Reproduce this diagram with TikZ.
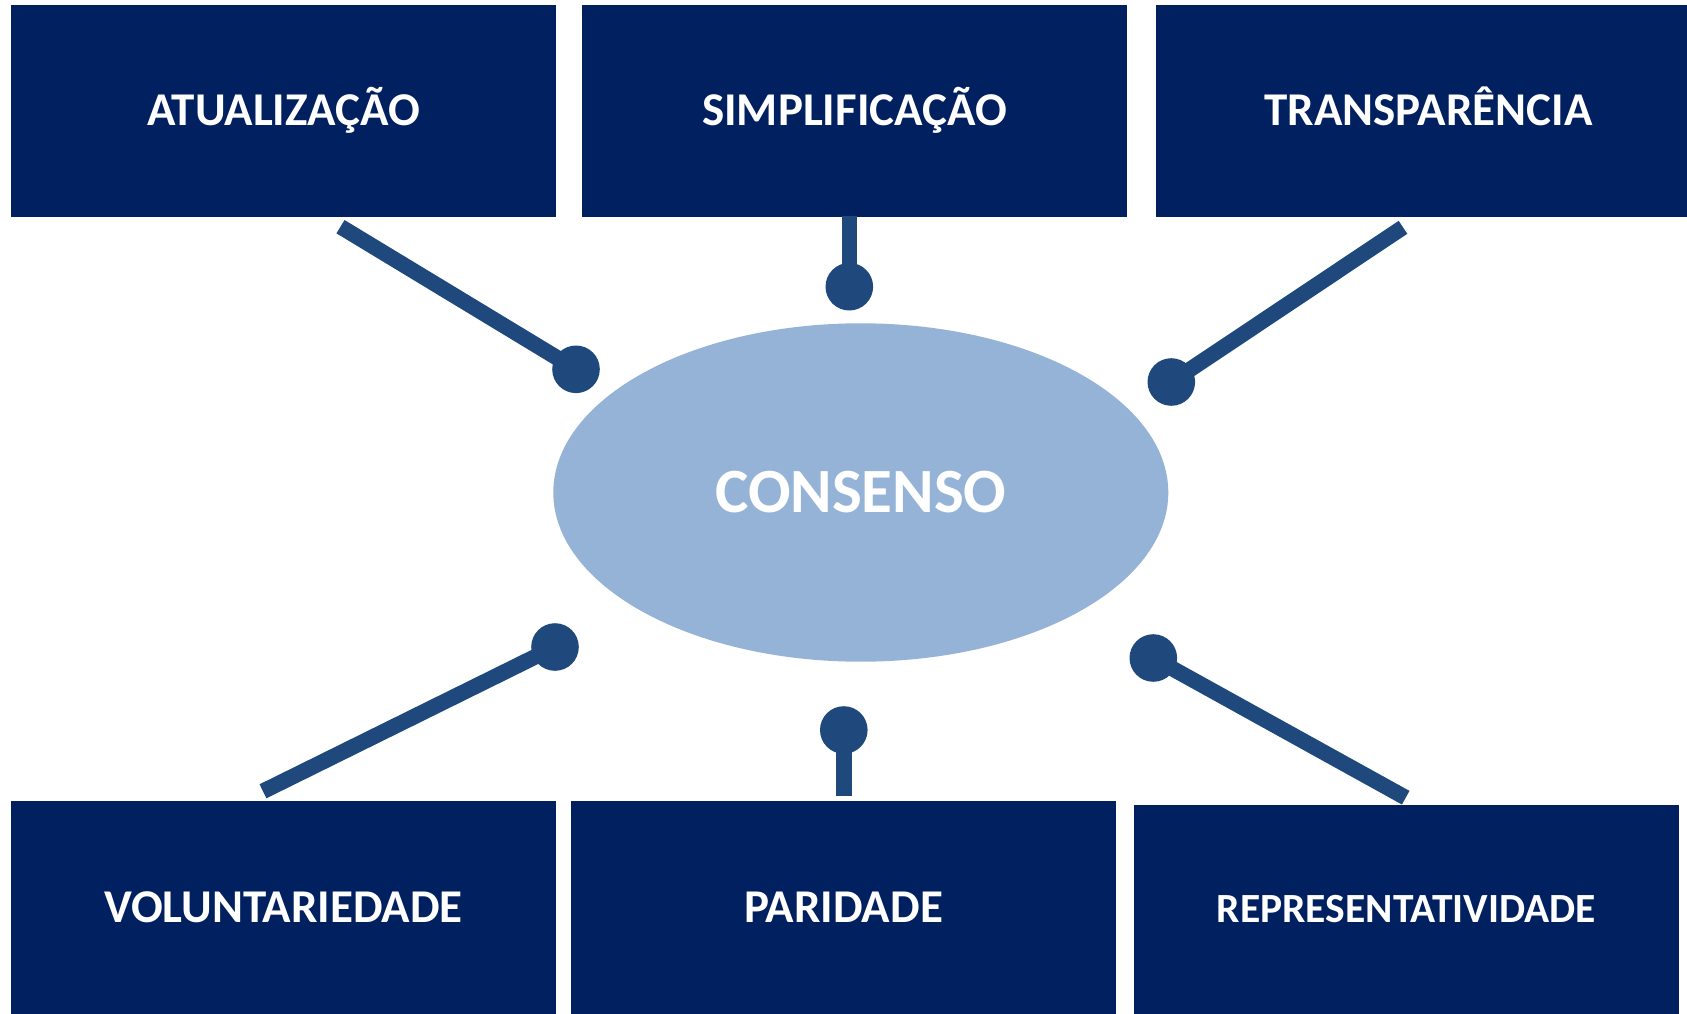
\documentclass[tikz,border=0pt]{standalone}
\usepackage{fontspec}
\setmainfont{Carlito}
\usetikzlibrary{shapes.geometric}
\definecolor{navy}{HTML}{002060}
\definecolor{lightblue}{HTML}{95B3D7}
\definecolor{pinblue}{HTML}{1F497D}
\begin{document}
\begin{tikzpicture}[x=1pt,y=-1pt,
  box/.style={rectangle, fill=navy, text=white, inner sep=0pt, minimum width=545pt,
    font=\fontsize{47}{56}\selectfont\bfseries, text height=29.7pt, text depth=0pt},
  smallbox/.style={box, font=\fontsize{41.5}{50}\selectfont\bfseries, text height=26.2pt},
  hub/.style={ellipse, fill=lightblue, text=white, inner sep=0pt,
    minimum width=615pt, minimum height=338.4pt,
    font=\fontsize{63}{75}\selectfont\bfseries, text height=39.8pt, text depth=0pt},
  pinline/.style={draw=pinblue, line width=15.6pt, line cap=butt},
  pindot/.style={circle, fill=pinblue, minimum size=47.6pt, inner sep=0pt}]
\useasboundingbox (0,0) rectangle (1687,1014);
\clip (0,0) rectangle (1687,1014);

% boxes
\node[box, minimum height=211.2pt] (b1) at (283.5,111.1) {ATUALIZAÇÃO};
\node[box, minimum height=211.2pt] (b2) at (854.5,111.1) {SIMPLIFICAÇÃO};
\node[box, minimum height=211.2pt] (b3) at (1428.5,111.1) {TRANSPARÊNCIA};
\node[box, minimum height=213pt] (b4) at (283.5,907.5) {VOLUNTARIEDADE};
\node[box, minimum height=213pt] (b5) at (843.5,907.5) {PARIDADE};
\node[smallbox, minimum height=209pt] (b6) at (1406.5,909.5) {REPRESENTATIVIDADE};

% central ellipse
\node[hub] (hub) at (860.8,492.5) {CONSENSO};

% free ends of the pins
\coordinate (s1) at (340.5,226.7);
\coordinate (s2) at (849.3,216.0);
\coordinate (s3) at (1403,227.3);
\coordinate (s4) at (263,791.3);
\coordinate (s5) at (843.8,796);
\coordinate (s6) at (1405.7,797.7);

% pin heads
\node[pindot] (d1) at (576,369.3) {};
\node[pindot] (d2) at (849.3,286.7) {};
\node[pindot] (d3) at (1171.3,382) {};
\node[pindot] (d4) at (555,647) {};
\node[pindot] (d5) at (843.8,730) {};
\node[pindot] (d6) at (1153.3,658) {};

% pin lines
\draw[pinline] (s1) -- (d1.center);
\draw[pinline] (s2) -- (d2.center);
\draw[pinline] (s3) -- (d3.center);
\draw[pinline] (s4) -- (d4.center);
\draw[pinline] (s5) -- (d5.center);
\draw[pinline] (s6) -- (d6.center);
\end{tikzpicture}
\end{document}
